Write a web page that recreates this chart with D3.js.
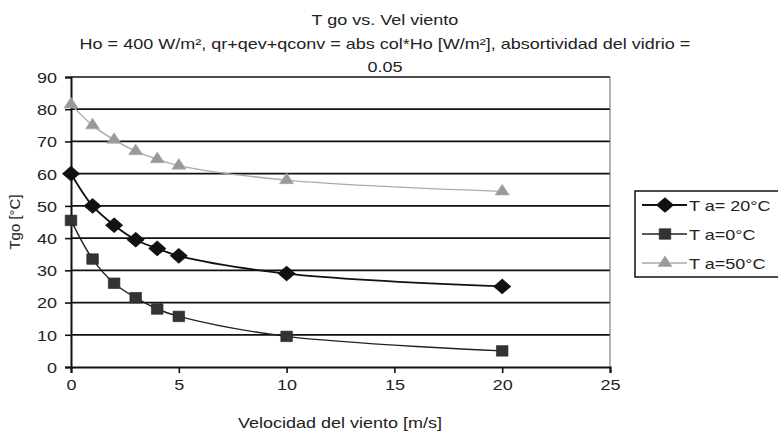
<!DOCTYPE html>
<html>
<head>
<meta charset="utf-8">
<script src="https://cdn.jsdelivr.net/npm/d3@7"></script>
<style>
  body { margin: 0; background: #fff; }
  svg { display: block; font-family: "Liberation Sans", Arial, sans-serif; }
</style>
</head>
<body>
<svg id="chart" width="778" height="433"></svg>
<script>
// datos
var vel = [0, 1, 2, 3, 4, 5, 10, 20];
var ta20 = [60, 50, 44, 39.5, 36.8, 34.5, 29, 25];
var ta0 = [45.5, 33.5, 26, 21.5, 18, 15.7, 9.5, 5];
var ta50 = [81.5, 75, 70.5, 67, 64.5, 62.5, 58, 54.5];
var seriesNames = ['T a= 20°C', 'T a=0°C', 'T a=50°C'];
var xTicks = [0, 5, 10, 15, 20, 25];
var yTicks = [0, 10, 20, 30, 40, 50, 60, 70, 80, 90];
var titleLines = ['T go vs. Vel viento',
  'Ho = 400 W/m², qr+qev+qconv = abs col*Ho [W/m²], absortividad del vidrio =',
  '0.05'];

var svg = d3.select('#chart');
var pLeft = 71, pRight = 610, pTop = 77, pBottom = 367;
var STRETCH = 1.2; // el original esta algo estirado en horizontal

function stretch(sel) {
  sel.each(function() {
    var w = this.getComputedTextLength();
    d3.select(this).attr('textLength', w * STRETCH).attr('lengthAdjust', 'spacingAndGlyphs');
  });
}

var x = d3.scaleLinear().domain([0, 25]).range([pLeft, pRight]);
var y = d3.scaleLinear().domain([0, 90]).range([pBottom, pTop]);

// titulo
svg.selectAll('text.title').data(titleLines).enter().append('text')
  .attr('class', 'title')
  .attr('x', 385).attr('y', function(d, i) { return 25 + i * 23.5; })
  .attr('text-anchor', 'middle').attr('font-size', 15).attr('fill', '#222')
  .text(function(d) { return d; })
  .call(stretch);

// lineas de grilla
svg.append('g').selectAll('line').data(yTicks.filter(function(d) { return d > 0; })).enter().append('line')
  .attr('x1', pLeft).attr('x2', pRight)
  .attr('y1', function(d) { return y(d); }).attr('y2', function(d) { return y(d); })
  .attr('stroke', '#111').attr('stroke-width', 1.7);

// borde derecho
svg.append('line').attr('x1', pRight).attr('x2', pRight).attr('y1', pTop).attr('y2', pBottom)
  .attr('stroke', '#666').attr('stroke-width', 1);

// ejes
var xAxis = svg.append('g').attr('transform', 'translate(0,' + pBottom + ')')
  .call(d3.axisBottom(x).tickValues(xTicks).tickSize(6).tickPadding(6));
var yAxis = svg.append('g').attr('transform', 'translate(' + pLeft + ',0)')
  .call(d3.axisLeft(y).tickValues(yTicks).tickSize(6).tickPadding(8));
[xAxis, yAxis].forEach(function(a) {
  a.select('.domain').attr('stroke', '#111').attr('stroke-width', 2);
  a.selectAll('.tick line').attr('stroke', '#111').attr('stroke-width', 1.6);
  a.selectAll('.tick text').attr('font-size', 15).attr('fill', '#222')
    .style('font-family', '"Liberation Sans", Arial, sans-serif')
    .call(stretch);
});
yAxis.selectAll('.tick text').attr('dy', '0.36em');

// etiquetas de ejes
svg.append('text').attr('x', 340).attr('y', 428).attr('text-anchor', 'middle')
  .attr('font-size', 15).attr('fill', '#222').text('Velocidad del viento [m/s]')
  .call(stretch);
svg.append('text').attr('transform', 'translate(20,222) rotate(-90)').attr('text-anchor', 'middle')
  .attr('font-size', 15).attr('fill', '#222').text('Tgo [°C]');

// sx: ensanchar el marcador en horizontal
var series = [
  { name: seriesNames[0], vals: ta20, color: '#111', fill: '#111', shape: d3.symbolDiamond, size: 60, sx: 2.0, width: 1.8 },
  { name: seriesNames[1], vals: ta0, color: '#222', fill: '#333', shape: d3.symbolSquare, size: 110, sx: 1.1, width: 1.4 },
  { name: seriesNames[2], vals: ta50, color: '#aaa', fill: '#999', shape: d3.symbolTriangle, size: 65, sx: 1.15, width: 1.4 }
];

var line = d3.line()
  .x(function(d) { return x(d[0]); })
  .y(function(d) { return y(d[1]); })
  .curve(d3.curveCatmullRom.alpha(0.5));

series.forEach(function(s) {
  var pts = vel.map(function(v, i) { return [v, s.vals[i]]; });
  svg.append('path').datum(pts).attr('d', line)
    .attr('fill', 'none').attr('stroke', s.color).attr('stroke-width', s.width);
  svg.append('g').selectAll('path').data(pts).enter().append('path')
    .attr('transform', function(d) { return 'translate(' + x(d[0]) + ',' + y(d[1]) + ') scale(' + s.sx + ',1)'; })
    .attr('d', d3.symbol().type(s.shape).size(s.size))
    .attr('fill', s.fill).attr('stroke', s.color).attr('stroke-width', 0.6);
});

// leyenda
var lg = svg.append('g');
lg.append('rect').attr('x', 635).attr('y', 191).attr('width', 160).attr('height', 86)
  .attr('fill', '#fff').attr('stroke', '#111').attr('stroke-width', 1.5);
series.forEach(function(s, i) {
  var ly = 205 + i * 29;
  lg.append('line').attr('x1', 642).attr('x2', 687).attr('y1', ly).attr('y2', ly)
    .attr('stroke', s.color).attr('stroke-width', s.width);
  lg.append('path').attr('transform', 'translate(665,' + ly + ') scale(' + s.sx + ',1)')
    .attr('d', d3.symbol().type(s.shape).size(s.size))
    .attr('fill', s.fill).attr('stroke', s.color).attr('stroke-width', 0.6);
  lg.append('text').attr('x', 689).attr('y', ly + 5.5).attr('font-size', 15).attr('fill', '#222')
    .text(s.name)
    .call(stretch);
});
</script>
</body>
</html>
